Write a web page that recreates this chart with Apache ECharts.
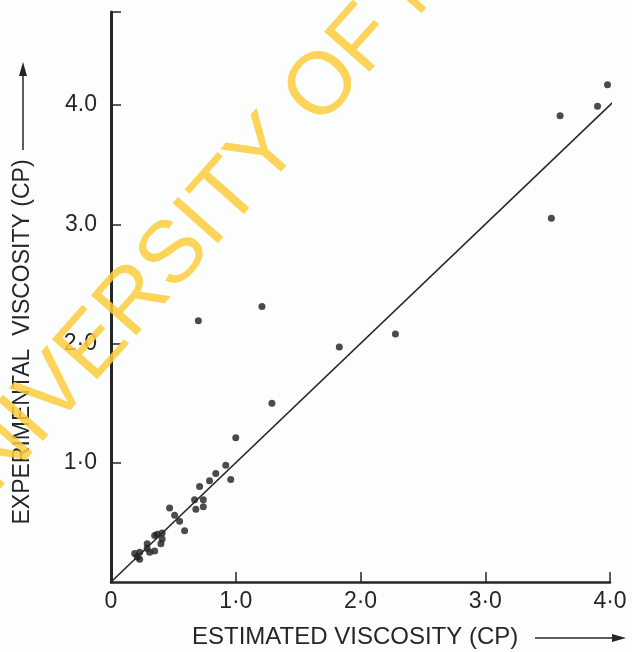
<!DOCTYPE html>
<html>
<head>
<meta charset="utf-8">
<script src="https://cdn.jsdelivr.net/npm/echarts@6/dist/echarts.min.js"></script>
<style>
  html, body { margin: 0; padding: 0; background: #fcfdfd; }
  #chart { width: 632px; height: 652px; }
</style>
</head>
<body>
<div id="chart"></div>
<script>
// estimated viscosity (x) vs experimental viscosity (y), both in cP
var estimated = [
    3.98, 3.90, 3.60, 3.53,
    0.70, 1.21, 1.83, 2.28, 1.29, 1.00,
    0.92, 0.96, 0.84, 0.79, 0.71, 0.67, 0.74, 0.68, 0.74, 0.47,
    0.51, 0.55, 0.59, 0.35, 0.41, 0.40, 0.29, 0.29, 0.31, 0.35,
    0.23, 0.19, 0.21, 0.23, 0.41, 0.37
];
var experimental = [
    4.17, 3.99, 3.91, 3.05,
    2.19, 2.31, 1.97, 2.08, 1.50, 1.21,
    0.98, 0.86, 0.91, 0.85, 0.80, 0.69, 0.69, 0.61, 0.63, 0.62,
    0.56, 0.51, 0.43, 0.39, 0.36, 0.32, 0.32, 0.28, 0.25, 0.26,
    0.25, 0.24, 0.21, 0.19, 0.41, 0.40
];
// line of perfect agreement
var fitLine = [[0, 0], [4.2, 4.2]];

var xTickLabels = ['0', '1·0', '2·0', '3·0', '4·0'];
var yTickLabels = ['0', '1·0', '2·0', '3.0', '4.0'];

var ink = '#262626';
var font = 'Liberation Sans';

var points = estimated.map(function(x, i) { return [x, experimental[i]]; });

var chart = echarts.init(document.getElementById('chart'));

chart.setOption({
    backgroundColor: '#fcfdfd',
    animation: false,
    grid: {
        left: 111,
        right: 22,
        top: 12,
        bottom: 70
    },
    xAxis: {
        type: 'value',
        min: 0,
        max: 4,
        interval: 1,
        splitLine: { show: false },
        axisLine: { lineStyle: { color: ink, width: 2.5 } },
        axisTick: { inside: true, length: 10, lineStyle: { color: ink, width: 1.5 } },
        axisLabel: {
            color: ink,
            fontFamily: font,
            fontSize: 23,
            margin: 8,
            formatter: function(v) { return xTickLabels[Math.round(v)]; }
        }
    },
    yAxis: {
        type: 'value',
        min: 0,
        max: 4.78,
        interval: 1,
        splitLine: { show: false },
        axisLine: { lineStyle: { color: ink, width: 3 } },
        axisTick: { inside: true, length: 10, lineStyle: { color: ink, width: 1.5 } },
        axisLabel: {
            color: ink,
            fontFamily: font,
            fontSize: 23,
            margin: 14,
            showMinLabel: false,
            formatter: function(v) { return yTickLabels[Math.round(v)]; }
        }
    },
    series: [
        {
            type: 'line',
            data: fitLine,
            clip: false,
            symbol: 'none',
            lineStyle: { color: ink, width: 1.6 }
        },
        {
            type: 'scatter',
            data: points,
            symbol: 'circle',
            symbolSize: 7,
            itemStyle: { color: '#1e1e1e' }
        }
    ],
    graphic: [
        // x axis title
        {
            type: 'text',
            left: 192,
            top: 625,
            style: { text: 'ESTIMATED VISCOSITY (CP)', font: '24px ' + font, fill: ink }
        },
        { type: 'line', shape: { x1: 535, y1: 638, x2: 616, y2: 638 }, style: { stroke: ink, lineWidth: 1.5 } },
        { type: 'polygon', shape: { points: [[626, 638], [612, 634], [612, 642]] }, style: { fill: ink } },
        // y axis title
        {
            type: 'text',
            x: 23,
            y: 342,
            rotation: Math.PI / 2,
            style: {
                text: 'EXPERIMENTAL  VISCOSITY (CP)',
                font: '23px ' + font,
                fill: ink,
                align: 'center',
                verticalAlign: 'middle'
            }
        },
        { type: 'line', shape: { x1: 23, y1: 150, x2: 23, y2: 72 }, style: { stroke: ink, lineWidth: 1.5 } },
        { type: 'polygon', shape: { points: [[23, 62], [19, 76], [27, 76]] }, style: { fill: ink } },
        // watermark
        {
            type: 'text',
            x: -65,
            y: 526,
            rotation: 0.846,
            z: 100,
            style: {
                text: 'UNIVERSITY OF M',
                font: '88px ' + font,
                fill: 'rgba(250, 204, 60, 0.85)',
                align: 'left',
                verticalAlign: 'middle'
            }
        }
    ]
});
</script>
</body>
</html>
